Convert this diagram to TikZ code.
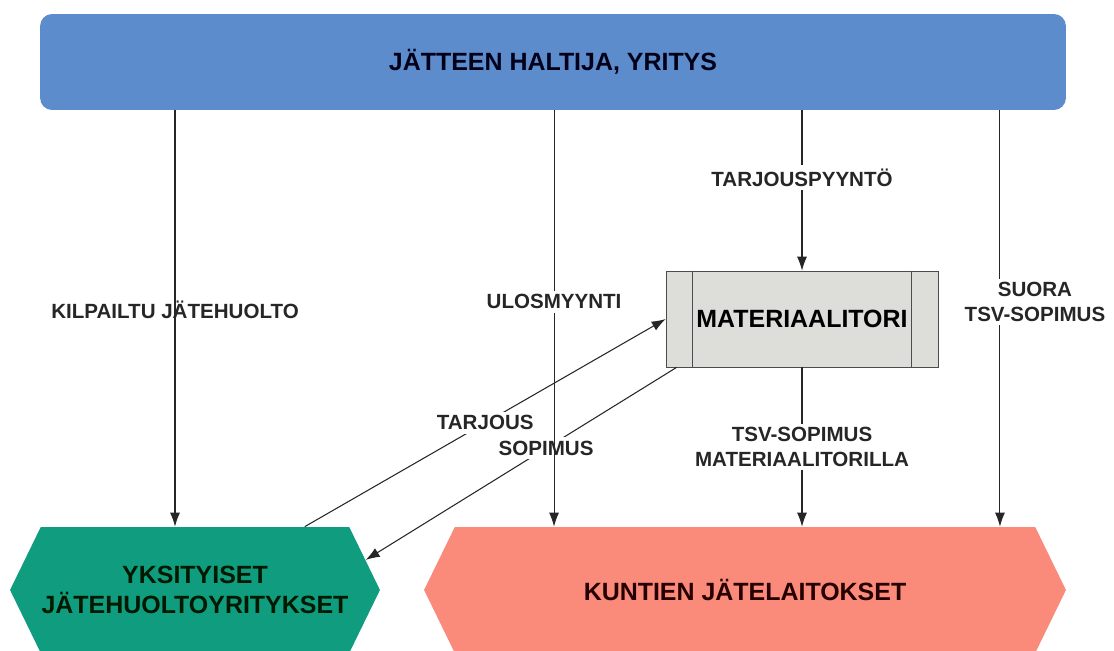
\documentclass[tikz,border=0pt]{standalone}
\usepackage{fontspec}
\setmainfont{Liberation Sans}
\usetikzlibrary{shapes.symbols, calc, arrows.meta}

\definecolor{holderblue}{RGB}{92,140,204}
\definecolor{privgreen}{RGB}{16,156,126}
\definecolor{munisalmon}{RGB}{250,138,122}
\definecolor{torigray}{RGB}{221,221,217}

\begin{document}
\begin{tikzpicture}[x=0.02cm, y=-0.02cm,
	box/.style={font=\fontsize{14.2}{17}\selectfont\bfseries, align=center},
	lbl/.style={font=\fontsize{11.7}{14.2}\selectfont\bfseries, align=center, text=black!85, inner sep=2pt},
	flow/.style={-{Latex[length=0.28cm, width=0.2cm]}, line width=0.6pt, draw=black!85},
	hex/.style={box, signal, signal to=west and east, signal pointer angle=128, inner xsep=0pt, minimum height=2.52cm}]
	\useasboundingbox (0,0) rectangle (1114,651);

	\node[box, fill=holderblue, rounded corners=0.24cm, minimum width=20.52cm, minimum height=1.92cm, text=black!90!blue] (holder) at (553,62)
		{JÄTTEEN HALTIJA, YRITYS};
	\node[box, draw=black!70, fill=torigray, minimum width=5.44cm, minimum height=1.92cm] (tori) at (802,319)
		{MATERIAALITORI};
	\draw[black!70] ([xshift=0.54cm]tori.north west) -- ([xshift=0.54cm]tori.south west);
	\draw[black!70] ([xshift=-0.54cm]tori.north east) -- ([xshift=-0.54cm]tori.south east);

	\node[hex, fill=privgreen, minimum width=7.4cm, text=black!90!green] (yks) at (195,590)
		{YKSITYISET\\JÄTEHUOLTOYRITYKSET};
	\node[hex, fill=munisalmon, minimum width=12.84cm, text=black!85!red] (kunta) at (745,590)
		{KUNTIEN JÄTELAITOKSET};

	\coordinate (k1) at ([xshift=-0.4cm]yks.north);
	\coordinate (k2) at ([xshift=-3.82cm]kunta.north);
	\coordinate (k4) at ([xshift=5.1cm]kunta.north);

	% tarjous ja sopimus
	\draw[flow] (yks.30) -- (tori.west)
		node[lbl, pos=0.5, fill=white] (tarjous) {TARJOUS};
	\draw[flow] ([xshift=0.22cm]tori.south west) -- (yks.10)
		node[lbl, pos=0.42, fill=white] (sopimus) {SOPIMUS};

	\draw[flow] (holder.south -| k1) -- (k1)
		node[lbl, pos=0.48] (kilpailtu) {KILPAILTU JÄTEHUOLTO};
	\draw[flow] (holder.south -| k2) -- (k2)
		node[lbl, pos=0.46, fill=white] (ulosmyynti) {ULOSMYYNTI};
	\draw[flow] (holder.south -| tori.north) -- (tori.north)
		node[lbl, pos=0.42, fill=white] (pyynto) {TARJOUSPYYNTÖ};
	\draw[flow] (tori.south) -- (kunta.north -| tori.south)
		node[lbl, pos=0.5, fill=white] (torisop) {TSV-SOPIMUS\\MATERIAALITORILLA};
	\draw[flow] (holder.south -| k4) -- (k4)
		node[lbl, pos=0.46, xshift=0.7cm, fill=white] (suora) {SUORA\\TSV-SOPIMUS};
\end{tikzpicture}
\end{document}
